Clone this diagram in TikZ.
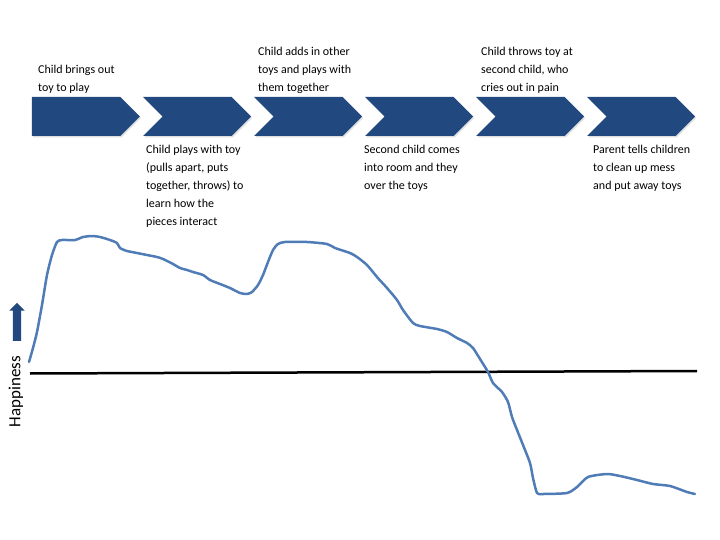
\documentclass[tikz,border=0pt]{standalone}
\usepackage{fontspec}
\setmainfont{Carlito}
\usetikzlibrary{shapes.symbols,shapes.arrows,shadows,positioning}
\definecolor{chevblue}{HTML}{22497F}
\definecolor{moodblue}{HTML}{4F7CB6}

\begin{document}
\begin{tikzpicture}[x=1bp,y=-1bp,node distance=111bp,
  chev/.style={shape=signal, signal to=east, signal pointer angle=90, fill=chevblue,
    minimum width=108bp, minimum height=39bp, inner sep=0pt,
    drop shadow={shadow xshift=1bp,shadow yshift=-1.5bp,opacity=0.25}},
  notched/.style={chev, signal from=west},
  step_text/.style={anchor=north west, align=left, inner sep=0pt,
    font=\fontsize{12bp}{18bp}\selectfont}]
\useasboundingbox (0,0) rectangle (720,540);

% chevron process
\node[chev, name=chev_1] at (76,116.5) {};
\node[notched, name=chev_2, right of=chev_1, xshift=10bp] {};
\node[notched, name=chev_3, right of=chev_2] {};
\node[notched, name=chev_4, right of=chev_3] {};
\node[notched, name=chev_5, right of=chev_4] {};
\node[notched, name=chev_6, right of=chev_5] {};

% steps above and below
\node[step_text, name=note_1] at (38,64.5) {Child brings out\\toy to play};
\node[step_text, name=note_3] at (258,46.5) {Child adds in other\\toys and plays with\\them together};
\node[step_text, name=note_5] at (481,46.5) {Child throws toy at\\second child, who\\cries out in pain};
\node[step_text, name=note_2] at (146,144.5) {Child plays with toy\\(pulls apart, puts\\together, throws) to\\learn how the\\pieces interact};
\node[step_text, name=note_4] at (364,144.5) {Second child comes\\into room and they\\over the toys};
\node[step_text, name=note_6] at (593,144.5) {Parent tells children\\to clean up mess\\and put away toys};

% happiness axis
\node[name=up_arrow, shape=single arrow, rotate=90, fill=chevblue, inner sep=0pt,
  text width=0pt, text height=4bp, text depth=4bp,
  minimum height=38bp, single arrow head extend=3.5bp] at (17,324) {};
\node[name=happy, rotate=90, inner sep=0pt, font=\fontsize{17bp}{20bp}\selectfont] at (16,391.5) {Happiness};
\coordinate (axis_l) at (30,373.5);
\coordinate (axis_r) at (697,371);
\draw[line width=2.5bp] (axis_l) -- (axis_r);

% mood curve
\draw[moodblue, line width=2.5bp, line join=round, line cap=round] plot[smooth, tension=0.4] coordinates {
(29,362) (33,348) (37,332) (42,305) (47,275) (52,255) (57,242) (62,240) (75,240)
(83,237) (92,236) (100,237) (110,240) (117,243) (120,248) (127,251) (137,253)
(147,255) (157,257) (163,259) (173,264) (180,268) (187,270) (193,272) (203,275)
(210,280) (220,284) (230,288) (240,293) (247,294) (252,292) (258,285) (263,275)
(268,262) (273,250) (278,244) (285,242) (307,242) (327,244) (335,248) (350,253)
(357,257) (367,265) (377,277) (387,288) (397,300) (403,310) (413,323) (420,326)
(437,329) (447,332) (457,338) (467,343) (473,348) (480,359) (488,372) (493,383)
(502,392) (508,402) (512,417) (517,430) (523,445) (530,463) (533,478) (537,493)
(543,494) (567,493) (577,487) (588,477) (607,474) (620,476) (637,480) (653,484)
(670,486) (687,492) (695,494)};

\end{tikzpicture}
\end{document}
